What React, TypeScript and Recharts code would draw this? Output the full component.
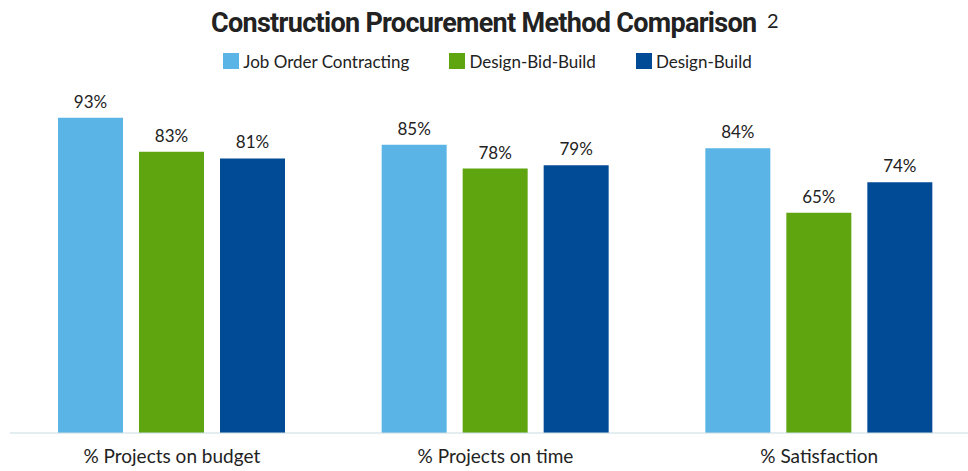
import React from "react";
import { BarChart, Bar, XAxis, YAxis, LabelList } from "recharts";

const categories = ["% Projects on budget", "% Projects on time", "% Satisfaction"];
const jobOrderContracting = [93, 85, 84];
const designBidBuild = [83, 78, 65];
const designBuild = [81, 79, 74];

const series = [
  { key: "joc", name: "Job Order Contracting", color: "#5ab4e5", values: jobOrderContracting },
  { key: "dbb", name: "Design-Bid-Build", color: "#5fa510", values: designBidBuild },
  { key: "db", name: "Design-Build", color: "#004a96", values: designBuild },
];

const data = categories.map((category, i) => {
  const row: Record<string, string | number> = { category };
  series.forEach((s) => {
    row[s.key] = s.values[i];
  });
  return row;
});

const FONT = "Lato, 'Noto Sans', sans-serif";
const TEXT = "#222222";

const App = () => {
  return (
    <div
      style={{
        position: "fixed",
        top: 0,
        left: 0,
        width: 968,
        height: 471,
        overflow: "hidden",
        background: "#ffffff",
        fontFamily: FONT,
      }}
    >
      {/* title + footnote mark */}
      <svg width={968} height={45} style={{ position: "absolute", top: 0, left: 0 }}>
        <text
          x={211}
          y={32}
          fontFamily="Roboto, sans-serif"
          fontWeight={700}
          fontSize={27}
          letterSpacing={-0.7}
          fill={TEXT}
        >
          Construction Procurement Method Comparison
        </text>
        <text x={767} y={28} fontFamily={FONT} fontSize={20} fill={TEXT}>
          2
        </text>
      </svg>

      {/* legend */}
      <div
        style={{
          position: "absolute",
          top: 49,
          left: 0,
          width: 968,
          display: "flex",
          justifyContent: "center",
          gap: 40,
          paddingLeft: 7,
          boxSizing: "border-box",
        }}
      >
        {series.map((s) => (
          <div key={s.key} style={{ display: "flex", alignItems: "center", height: 24 }}>
            <span style={{ width: 16, height: 16, background: s.color, marginRight: 4 }} />
            <span style={{ fontSize: 17, color: TEXT }}>{s.name}</span>
          </div>
        ))}
      </div>

      <BarChart
        width={990}
        height={471}
        data={data}
        margin={{ top: 94, right: 9, left: 10, bottom: 0 }}
        barSize={65}
        barGap={16}
      >
        <XAxis
          dataKey="category"
          height={38}
          axisLine={{ stroke: "#c9dbe1" }}
          tickLine={false}
          tickMargin={11}
          tick={{ fontSize: 19, fill: TEXT, fontFamily: FONT }}
          interval={0}
        />
        <YAxis hide domain={[0, 100]} />
        {series.map((s) => (
          <Bar key={s.key} dataKey={s.key} name={s.name} fill={s.color} isAnimationActive={false}>
            <LabelList
              dataKey={s.key}
              position="top"
              offset={10}
              formatter={(v: number) => `${v}%`}
              style={{ fontSize: 17, fill: TEXT, fontFamily: FONT }}
            />
          </Bar>
        ))}
      </BarChart>
    </div>
  );
};

export default App;
